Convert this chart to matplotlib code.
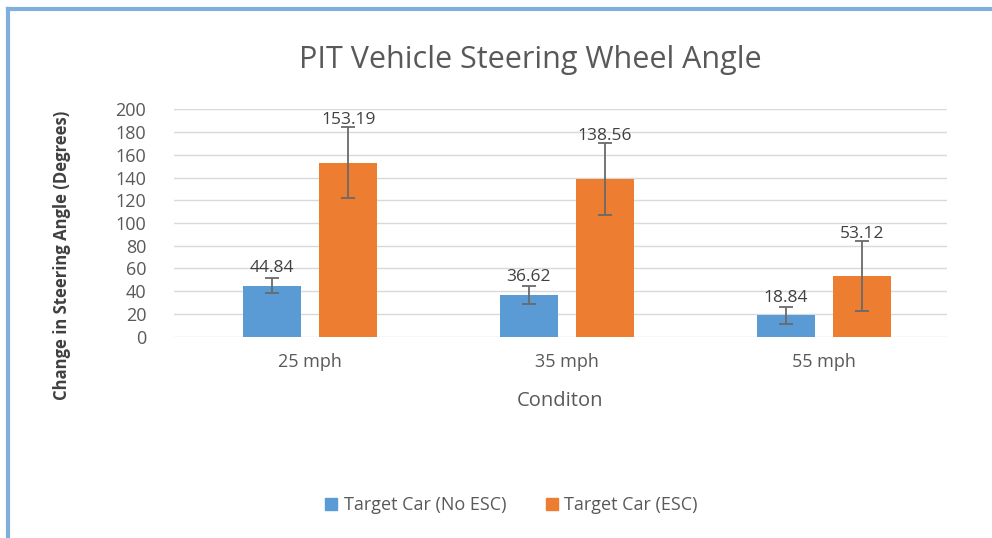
import matplotlib.pyplot as plt
import numpy as np
from matplotlib.lines import Line2D

categories = ['25 mph', '35 mph', '55 mph']
no_esc = [44.84, 36.62, 18.84]
no_esc_err = [6.6, 8.2, 7.6]
esc = [153.19, 138.56, 53.12]
esc_err = [31.3, 31.5, 30.8]
series_names = ['Target Car (No ESC)', 'Target Car (ESC)']

blue = '#5B9BD5'
orange = '#ED7D31'
txt = '#595959'

plt.rcParams['font.family'] = ['Open Sans', 'DejaVu Sans']

fig = plt.figure(figsize=(9.92, 5.38), dpi=100)
ax = fig.add_axes([174 / 992, 1 - 336.7 / 538, (947 - 174) / 992, (336.7 - 109.3) / 538])

x = np.arange(len(categories))
w = 0.226
off = 0.148
ekw = dict(ecolor='#6a6a6a', elinewidth=1.3, capsize=5, capthick=1.3)
b1 = ax.bar(x - off, no_esc, w, color=blue, yerr=no_esc_err, error_kw=ekw, zorder=3)
b2 = ax.bar(x + off, esc, w, color=orange, yerr=esc_err, error_kw=ekw, zorder=3)

# value labels (excel puts them above the bar, error bar overlaps)
for xi, v in zip(x - off, no_esc):
    ax.annotate(f'{v:.2f}', (xi, v), xytext=(0, 7), textcoords='offset points',
                ha='center', va='bottom', fontsize=12.5, color='#404040', zorder=4)
for xi, v in zip(x + off, esc):
    ax.annotate(f'{v:.2f}', (xi, v), xytext=(0, 25), textcoords='offset points',
                ha='center', va='bottom', fontsize=12.5, color='#404040', zorder=4)

ax.set_xlim(-0.53, 2.48)
ax.set_ylim(0, 200)
ax.set_yticks(np.arange(0, 201, 20))
ax.set_xticks(x)
ax.set_xticklabels(categories)
ax.grid(axis='y', color='#D9D9D9', lw=1, zorder=0)
for s in ax.spines.values():
    s.set_visible(False)
ax.tick_params(axis='both', length=0, labelsize=13, colors=txt)
ax.tick_params(axis='y', pad=20)
ax.tick_params(axis='x', pad=12)

ax.set_xlabel('Conditon', fontsize=14.5, color=txt, labelpad=14)
fig.text(62 / 992, 1 - 255 / 538, 'Change in Steering Angle (Degrees)', rotation=90,
         ha='center', va='center', fontsize=12, fontweight='bold', color='#404040')
fig.text(530 / 992, 1 - 60 / 538, 'PIT Vehicle Steering Wheel Angle',
         ha='center', va='center', fontsize=22, color=txt)

handles = [Line2D([], [], marker='s', ls='', color=c, markersize=8) for c in (blue, orange)]
fig.legend(handles, series_names, loc='center', bbox_to_anchor=(510 / 992, 1 - 505 / 538),
           ncol=2, frameon=False, fontsize=13, labelcolor=txt,
           handletextpad=0.2, columnspacing=2.0, handlelength=1)

# border: only top and left edges show
fig.add_artist(Line2D([8 / 992, 1], [1 - 9 / 538, 1 - 9 / 538], color='#7FB0DC', lw=3))
fig.add_artist(Line2D([8 / 992, 8 / 992], [0, 1 - 9 / 538], color='#7FB0DC', lw=3))

fig.savefig('out.png', dpi=100)
